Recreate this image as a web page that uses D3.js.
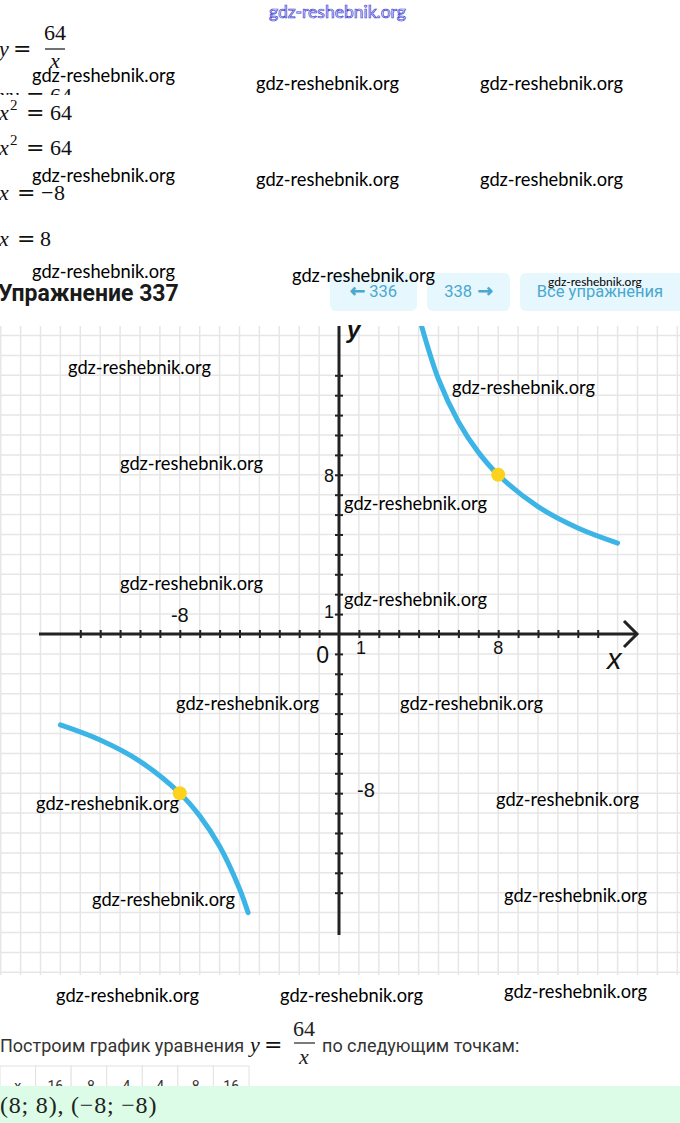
<!DOCTYPE html>
<html><head><meta charset="utf-8">
<script src="https://d3js.org/d3.v7.min.js"></script>
<style>body{margin:0;background:#fff}svg{display:block}</style>
</head><body>
<svg width=680 height=1123></svg>
<script>
var upperBranch = [[4,16],[5,12.8],[6,10.67],[7,9.14],[8,8],[10,6.4],[12,5.33],[14,4.57]]
var lowerBranch = [[-14,-4.57],[-12,-5.33],[-10,-6.4],[-8,-8],[-7,-9.14],[-6,-10.67],[-5,-12.8],[-4.57,-14]]
var markedPoints = [[8,8],[-8,-8]]
var axisTicks = [-13,-12,-11,-10,-9,-8,-7,-6,-5,-4,-3,-2,-1,1,2,3,4,5,6,7,8,9,10,11,12,13]
var xLabels = [[-8,"-8"],[1,"1"],[8,"8"]]
var yLabels = [[1,"1"],[8,"8"],[-8,"-8"]]
var tableRow = ["x","-16","-8","-4","4","8","16"]
var answer = "(8; 8),  (−8; −8)"

var svg = d3.select('svg')
var serif = "'Liberation Serif', serif"
var sans = "Roboto, 'Liberation Sans', sans-serif"

var x = d3.scaleLinear().domain([-13, 13]).range([80.3, 597.7])
var y = d3.scaleLinear().domain([-13, 13]).range([892.7, 375.3])

var gridTop = 326, gridBottom = 975

  //Grid
  var grid = svg.append('g')
  grid.selectAll('line.v').data(d3.range(-17, 18)).join('line')
    .attr('x1', d => x(d)).attr('x2', d => x(d))
    .attr('y1', gridTop).attr('y2', gridBottom)
    .attr('stroke', '#e6e6e6').attr('stroke-width', 1.5)
  grid.selectAll('line.h').data(d3.range(-17, 16)).join('line')
    .attr('x1', 0).attr('x2', 680)
    .attr('y1', d => y(d)).attr('y2', d => y(d))
    .attr('stroke', '#e6e6e6').attr('stroke-width', 1.5)

  //Axes
  var xAxis = svg.append('g')
    .attr('transform', 'translate(0,' + y(0) + ')')
    .call(d3.axisBottom(x).tickValues(axisTicks).tickFormat('').tickSize(4))
  xAxis.select('.domain').remove()
  xAxis.selectAll('.tick line').attr('y1', -4).attr('stroke', '#222').attr('stroke-width', 2)

  var yAxis = svg.append('g')
    .attr('transform', 'translate(' + x(0) + ',0)')
    .call(d3.axisLeft(y).tickValues(axisTicks).tickFormat('').tickSize(4))
  yAxis.select('.domain').remove()
  yAxis.selectAll('.tick line').attr('x1', 4).attr('stroke', '#222').attr('stroke-width', 2)

  svg.append('line')
    .attr('x1', 39).attr('x2', 636).attr('y1', y(0)).attr('y2', y(0))
    .attr('stroke', '#222').attr('stroke-width', 3)
  svg.append('path')
    .attr('d', 'M' + 624 + ',' + (y(0) - 13) + 'L' + 637 + ',' + y(0) + 'L' + 624 + ',' + (y(0) + 13))
    .attr('fill', 'none').attr('stroke', '#222').attr('stroke-width', 3)
  svg.append('line')
    .attr('x1', x(0)).attr('x2', x(0)).attr('y1', gridTop).attr('y2', 935)
    .attr('stroke', '#222').attr('stroke-width', 3)

  //Curve
  svg.append('clipPath').attr('id', 'gridclip')
    .append('rect').attr('x', 0).attr('y', gridTop).attr('width', 680).attr('height', gridBottom - gridTop)
  var curve = d3.line().x(d => x(d[0])).y(d => y(d[1])).curve(d3.curveCatmullRom)
  svg.append('g').attr('clip-path', 'url(#gridclip)')
    .selectAll('path').data([upperBranch, lowerBranch]).join('path')
    .attr('d', curve)
    .attr('fill', 'none').attr('stroke', '#3db4e6').attr('stroke-width', 5).attr('stroke-linecap', 'round')

  svg.selectAll('circle.pt').data(markedPoints).join('circle')
    .attr('cx', d => x(d[0])).attr('cy', d => y(d[1])).attr('r', 7)
    .attr('fill', '#fcd21c')

  //Axis labels
  var lab = "'Liberation Sans', Arial, sans-serif"
  svg.selectAll('text.xl').data(xLabels).join('text')
    .attr('x', d => x(d[0]) + (d[0] == 1 ? -3 : 0))
    .attr('y', d => d[0] < 0 ? y(0) - 12 : y(0) + 20)
    .attr('text-anchor', d => d[0] == 1 ? 'start' : 'middle')
    .attr('font-family', lab).attr('font-size', d => d[0] < 0 ? 20 : 18).attr('fill', '#111')
    .text(d => d[1])
  svg.selectAll('text.yl').data(yLabels).join('text')
    .attr('x', d => d[0] < 0 ? x(0) + 18 : x(0) - 5)
    .attr('y', d => y(d[0]) + 7 - (d[0] == 1 ? 3 : 0) - (d[0] < 0 ? 3 : 0))
    .attr('text-anchor', d => d[0] < 0 ? 'start' : 'end')
    .attr('font-family', lab).attr('font-size', d => d[0] < 0 ? 20 : 18).attr('fill', '#111')
    .text(d => d[1])
  svg.append('text').attr('x', x(0) - 10).attr('y', y(0) + 29).attr('text-anchor', 'end')
    .attr('font-family', lab).attr('font-size', 23).attr('fill', '#111').text('0')
  svg.append('text').attr('x', 607).attr('y', 669)
    .attr('font-family', lab).attr('font-style', 'italic').attr('font-size', 29).attr('fill', '#111').text('x')
  svg.append('text').attr('x', 347).attr('y', 338)
    .attr('font-family', lab).attr('font-style', 'italic').attr('font-weight', 'bold').attr('font-size', 24).attr('fill', '#111').text('y')

  //Header area (white, above the grid)
  svg.append('rect').attr('x', 0).attr('y', 0).attr('width', 680).attr('height', gridTop - 1).attr('fill', '#fff')

  //Solution lines at the top: [text, x, style]
  function mathLine(yb, parts) {
    var g = svg.append('g')
    parts.forEach(p => {
      var t = g.append('text').attr('x', p[1]).attr('y', yb).text(p[0])
        .attr('font-family', serif).attr('font-size', 22).attr('fill', '#111')
      if (p[2] == 'i') t.attr('font-style', 'italic')
      if (p[2] == 'sup') t.attr('font-size', 15).attr('y', yb - 10)
      if (p[2] == 'op') t.attr('font-family', "'DejaVu Serif', serif").attr('font-size', 22)
    })
    return g
  }
  mathLine(56, [['y', -1, 'i'], ['=', 13, 'op']])
  svg.append('text').attr('x', 55).attr('y', 40).attr('text-anchor', 'middle')
    .attr('font-family', serif).attr('font-size', 22).attr('fill', '#111').text('64')
  svg.append('line').attr('x1', 45).attr('x2', 65).attr('y1', 49).attr('y2', 49).attr('stroke', '#111').attr('stroke-width', 1.2)
  svg.append('text').attr('x', 55).attr('y', 68).attr('text-anchor', 'middle')
    .attr('font-family', serif).attr('font-style', 'italic').attr('font-size', 22).attr('fill', '#111').text('x')

  svg.append('clipPath').attr('id', 'cutline').append('rect').attr('x', 0).attr('y', 0).attr('width', 680).attr('height', 95)
  mathLine(103, [['xy', -1, 'i'], ['=', 26, 'op'], ['64', 50]]).attr('clip-path', 'url(#cutline)')
  mathLine(120, [['x', -1, 'i'], ['2', 10, 'sup'], ['=', 26, 'op'], ['64', 50]])
  mathLine(155, [['x', -1, 'i'], ['2', 10, 'sup'], ['=', 26, 'op'], ['64', 50]])
  mathLine(200, [['x', -1, 'i'], ['=', 17, 'op'], ['−', 41], ['8', 54]])
  mathLine(246, [['x', -1, 'i'], ['=', 17, 'op'], ['8', 40]])

  //Title and buttons
  svg.append('text').attr('x', -2).attr('y', 301)
    .attr('font-family', sans).attr('font-weight', 'bold').attr('font-size', 23).attr('fill', '#1a1a1a')
    .text('Упражнение 337')
  var buttons = [[330, 87, '←', '336'], [427, 83, '338', '→'], [520, 170, 'Все упражнения']]
  buttons.forEach(b => {
    svg.append('rect').attr('x', b[0]).attr('y', 273).attr('width', b[1]).attr('height', 38).attr('rx', 6).attr('fill', '#e6f7fd')
    var t = svg.append('text').attr('x', b[0] + (b.length == 3 ? 80 : b[1] / 2)).attr('y', 297)
      .attr('text-anchor', 'middle').attr('font-family', sans).attr('font-size', 16.5).attr('fill', '#4aa8cf')
    b.slice(2).forEach((s, i) => {
      var sp = t.append('tspan').text((i ? '  ' : '') + s)
      if (s == '←' || s == '→') sp.attr('font-family', "'DejaVu Sans', sans-serif").attr('font-size', 18)
        .attr('stroke', '#4aa8cf').attr('stroke-width', 0.9)
    })
  })

  //Bottom explanation
  svg.append('text').attr('x', 0).attr('y', 1052)
    .attr('font-family', sans).attr('font-size', 18).attr('fill', '#333')
    .text('Построим график уравнения')
  mathLine(1052, [['y', 250, 'i'], ['=', 264, 'op']])
  svg.append('text').attr('x', 304).attr('y', 1036).attr('text-anchor', 'middle')
    .attr('font-family', serif).attr('font-size', 22).attr('fill', '#222').text('64')
  svg.append('line').attr('x1', 294).attr('x2', 315).attr('y1', 1043).attr('y2', 1043).attr('stroke', '#222').attr('stroke-width', 1.2)
  svg.append('text').attr('x', 304).attr('y', 1064).attr('text-anchor', 'middle')
    .attr('font-family', serif).attr('font-style', 'italic').attr('font-size', 22).attr('fill', '#222').text('x')
  svg.append('text').attr('x', 322).attr('y', 1052)
    .attr('font-family', sans).attr('font-size', 18).attr('fill', '#333')
    .text('по следующим точкам:')

  //Table (mostly hidden under the answer box)
  var cellX = d3.scaleBand().domain(d3.range(tableRow.length)).range([0, 249])
  svg.selectAll('rect.cell').data(tableRow).join('rect')
    .attr('x', (d, i) => cellX(i)).attr('y', 1066).attr('width', cellX.bandwidth()).attr('height', 34)
    .attr('fill', '#fff').attr('stroke', '#e2e2e2')
  svg.selectAll('text.cell').data(tableRow).join('text')
    .attr('x', (d, i) => cellX(i) + cellX.bandwidth() / 2).attr('y', 1091).attr('text-anchor', 'middle')
    .attr('font-family', sans).attr('font-size', 14).attr('fill', '#333').text(d => d)

  svg.append('rect').attr('x', 0).attr('y', 1086).attr('width', 680).attr('height', 37).attr('fill', '#dcfce8')
  svg.append('text').attr('x', 0).attr('y', 1113)
    .attr('font-family', serif).attr('font-size', 24).attr('letter-spacing', 0.8).attr('fill', '#222').text(answer)

  //Watermarks
  var marks = [[32,76],[256,84],[480,84],[32,176],[256,180],[480,180],[32,272],[292,276],
    [68,368],[452,388],[120,464],[344,504],[120,584],[344,600],[176,704],[400,704],
    [36,804],[496,800],[92,900],[504,896],[56,996],[280,996],[504,992]]
  svg.selectAll('text.wm').data(marks).join('text')
    .attr('x', d => d[0]).attr('y', d => d[1] + 6)
    .attr('font-family', 'Lato, sans-serif').attr('font-size', 18.3).attr('fill', '#000')
    .text('gdz-reshebnik.org')
  svg.append('text').attr('x', 548).attr('y', 286)
    .attr('font-family', 'Lato, sans-serif').attr('font-size', 12).attr('fill', '#000').text('gdz-reshebnik.org')
  svg.append('text').attr('x', 269).attr('y', 18)
    .attr('font-family', 'Lato, sans-serif').attr('font-size', 17.5).attr('fill', '#eeeeff')
    .attr('stroke', '#3a3ad0').attr('stroke-width', 0.7).text('gdz-reshebnik.org')
</script>
</body></html>
